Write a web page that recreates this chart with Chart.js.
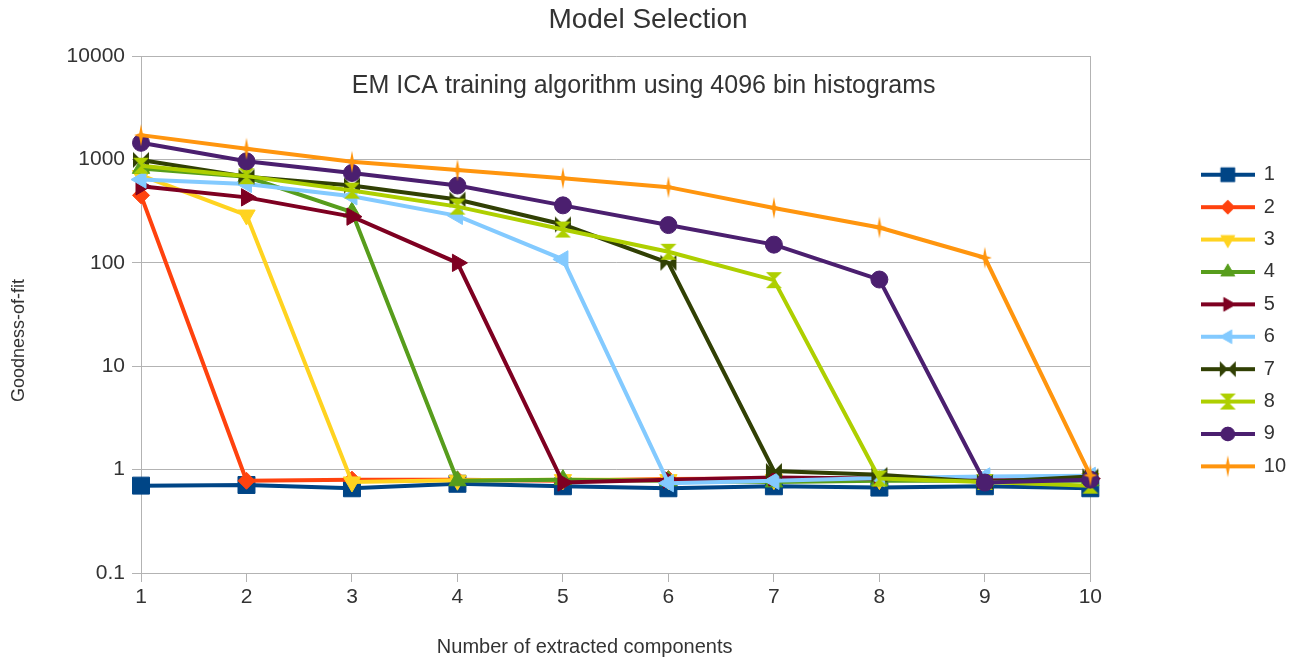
<!DOCTYPE html>
<html>
<head>
<meta charset="utf-8">
<title>Model Selection</title>
<script src="https://cdn.jsdelivr.net/npm/chart.js@4/dist/chart.umd.min.js"></script>
<style>
  body { margin: 0; background: #fff; }
  #wrap { width: 1300px; height: 662px; }
</style>
</head>
<body>
<div id="wrap"><canvas id="myChart" width="1300" height="662"></canvas></div>
<script>
const categories = ["1", "2", "3", "4", "5", "6", "7", "8", "9", "10"]
const seriesNames = ["1", "2", "3", "4", "5", "6", "7", "8", "9", "10"]

const s1 = [0.70, 0.71, 0.66, 0.73, 0.69, 0.66, 0.69, 0.67, 0.69, 0.66]
const s2 = [450, 0.78, 0.80, 0.80, 0.78, 0.81, 0.82, 0.80, 0.80, 0.80]
const s3 = [700, 290, 0.76, 0.79, 0.80, 0.80, 0.80, 0.80, 0.80, 0.82]
const s4 = [820, 680, 310, 0.78, 0.80, 0.78, 0.76, 0.78, 0.78, 0.78]
const s5 = [550, 430, 280, 100, 0.75, 0.80, 0.84, 0.82, 0.80, 0.82]
const s6 = [640, 580, 440, 285, 108, 0.74, 0.78, 0.83, 0.86, 0.87]
const s7 = [990, 680, 560, 410, 235, 100, 0.97, 0.89, 0.76, 0.86]
const s8 = [870, 690, 500, 350, 210, 128, 68, 0.82, 0.76, 0.70]
const s9 = [1450, 960, 740, 560, 360, 232, 150, 69, 0.75, 0.80]
const s10 = [1720, 1270, 950, 790, 660, 540, 340, 220, 112, 0.88]
const allSeries = [s1, s2, s3, s4, s5, s6, s7, s8, s9, s10]

const yTicks = [0.1, 1, 10, 100, 1000, 10000]
const yTickLabels = ["0.1", "1", "10", "100", "1000", "10000"]

const colors = [
  "#004586", "#ff420e", "#ffd320", "#579d1c", "#7e0021",
  "#83caff", "#314004", "#aecf00", "#4b1f6f", "#ff950e",
]

const textColor = "#333333"
const gridColor = "#b3b3b3"
const fontFamily = '"Liberation Sans", Arial, sans-serif'
Chart.defaults.font.family = fontFamily
Chart.defaults.color = textColor

// custom markers for the shapes Chart.js does not have
const makeMarker = (color, draw, w, h) => {
  const c = document.createElement("canvas")
  c.width = w
  c.height = h
  const g = c.getContext("2d")
  g.fillStyle = color
  draw(g, w / 2, h / 2)
  return c
}

const bowtie = (g, cx, cy) => {
  g.beginPath()
  g.moveTo(cx - 8, cy - 8)
  g.lineTo(cx, cy)
  g.lineTo(cx - 8, cy + 8)
  g.closePath()
  g.moveTo(cx + 8, cy - 8)
  g.lineTo(cx, cy)
  g.lineTo(cx + 8, cy + 8)
  g.closePath()
  g.fill()
}

const hourglass = (g, cx, cy) => {
  g.beginPath()
  g.moveTo(cx - 8, cy - 8)
  g.lineTo(cx + 8, cy - 8)
  g.lineTo(cx, cy)
  g.closePath()
  g.moveTo(cx - 8, cy + 8)
  g.lineTo(cx + 8, cy + 8)
  g.lineTo(cx, cy)
  g.closePath()
  g.fill()
}

const star = (g, cx, cy) => {
  g.beginPath()
  g.moveTo(cx, cy - 11)
  g.lineTo(cx + 1.8, cy - 1.8)
  g.lineTo(cx + 7, cy)
  g.lineTo(cx + 1.8, cy + 1.8)
  g.lineTo(cx, cy + 11)
  g.lineTo(cx - 1.8, cy + 1.8)
  g.lineTo(cx - 7, cy)
  g.lineTo(cx - 1.8, cy - 1.8)
  g.closePath()
  g.fill()
}

const pointStyles = [
  "rect", "rectRot", "triangle", "triangle", "triangle", "triangle",
  makeMarker(colors[6], bowtie, 18, 18),
  makeMarker(colors[7], hourglass, 18, 18),
  "circle",
  makeMarker(colors[9], star, 16, 24),
]
const rotations = [0, 0, 180, 0, 90, -90, 0, 0, 0, 0]
const radii = [12, 8.5, 10, 10, 10, 10, 9, 9, 8.5, 10]
const legendDraw = [null, null, null, null, null, null, bowtie, hourglass, null, star]

// legend icon: line with the marker on top
const legendIcon = (i) => {
  const c = document.createElement("canvas")
  c.width = 54
  c.height = 24
  const g = c.getContext("2d")
  g.strokeStyle = colors[i]
  g.fillStyle = colors[i]
  g.lineWidth = 4
  g.beginPath()
  g.moveTo(0, 12)
  g.lineTo(54, 12)
  g.stroke()
  if (legendDraw[i]) {
    legendDraw[i](g, 27, 12)
  } else {
    Chart.helpers.drawPoint(g, {
      pointStyle: pointStyles[i],
      rotation: rotations[i],
      radius: radii[i] * 0.85,
      borderWidth: 0,
    }, 27, 12)
    g.fill()
  }
  return c
}
const legendIcons = colors.map((c, i) => legendIcon(i))

const datasets = allSeries.map((data, i) => ({
  label: seriesNames[i],
  data: data,
  borderColor: colors[i],
  backgroundColor: colors[i],
  borderWidth: 4,
  pointStyle: pointStyles[i],
  rotation: rotations[i],
  pointRadius: radii[i],
  pointBorderWidth: 1,
  pointBorderColor: colors[i],
  pointBackgroundColor: colors[i],
  tension: 0,
  order: 10 - i,
}))

// subtitle inside the plot and the two axis titles
const textPlugin = {
  id: "chartTexts",
  afterDraw(chart) {
    const { ctx, chartArea } = chart
    const midX = (chartArea.left + chartArea.right) / 2
    const midY = (chartArea.top + chartArea.bottom) / 2
    ctx.save()
    ctx.fillStyle = textColor
    ctx.textAlign = "center"
    ctx.textBaseline = "middle"
    ctx.font = "25px " + fontFamily
    ctx.fillText("EM ICA training algorithm using 4096 bin histograms", midX + 28, chartArea.top + 30)
    ctx.font = "20px " + fontFamily
    ctx.fillText("Number of extracted components", midX - 31, chartArea.bottom + 74)
    ctx.translate(19, midY + 26)
    ctx.rotate(-Math.PI / 2)
    ctx.font = "18px " + fontFamily
    ctx.fillText("Goodness-of-fit", 0, 0)
    ctx.restore()
  },
}

const config = {
  type: "line",
  data: { labels: categories, datasets: datasets },
  options: {
    responsive: false,
    animation: false,
    layout: { padding: { right: 4 } },
    plugins: {
      title: {
        display: true,
        text: "Model Selection",
        color: textColor,
        font: { size: 28, weight: "normal" },
        padding: { top: 3, bottom: 19.5 },
      },
      legend: {
        position: "right",
        fullSize: false,
        title: { display: true, text: "", font: { size: 10 }, padding: 0 },
        labels: {
          usePointStyle: true,
          pointStyleWidth: 52,
          padding: 12.4,
          color: textColor,
          font: { size: 20 },
          generateLabels: (chart) =>
            chart.data.datasets.map((ds, i) => ({
              text: ds.label,
              pointStyle: legendIcons[i],
              fillStyle: colors[i],
              strokeStyle: colors[i],
              lineWidth: 0,
              fontColor: textColor,
              hidden: false,
              datasetIndex: i,
            })),
        },
      },
      tooltip: { enabled: false },
    },
    scales: {
      x: {
        type: "category",
        offset: false,
        grid: {
          display: true,
          drawOnChartArea: false,
          drawTicks: true,
          tickLength: 9,
          color: gridColor,
        },
        border: { display: true, color: gridColor },
        ticks: { font: { size: 21 }, color: textColor, padding: 3, maxRotation: 0, autoSkip: false },
        afterFit: (s) => { s.height = 89 },
      },
      y: {
        type: "logarithmic",
        position: "left",
        min: 0.1,
        max: 10000,
        grid: { color: gridColor, tickLength: 9, drawTicks: true },
        border: { display: true, color: gridColor },
        ticks: {
          font: { size: 21 },
          color: textColor,
          padding: 7,
          callback: (value, index) => yTickLabels[index],
        },
        afterBuildTicks: (s) => {
          s.ticks = yTicks.map((v) => ({ value: v }))
        },
        afterFit: (s) => { s.width = 141 },
      },
      yRight: {
        type: "linear",
        position: "right",
        display: true,
        grid: { display: false },
        ticks: { display: false },
        border: { display: true, color: gridColor },
        afterFit: (s) => { s.width = 99 },
      },
    },
  },
  plugins: [textPlugin],
}

const myChart = new Chart(document.getElementById("myChart"), config)
</script>
</body>
</html>
